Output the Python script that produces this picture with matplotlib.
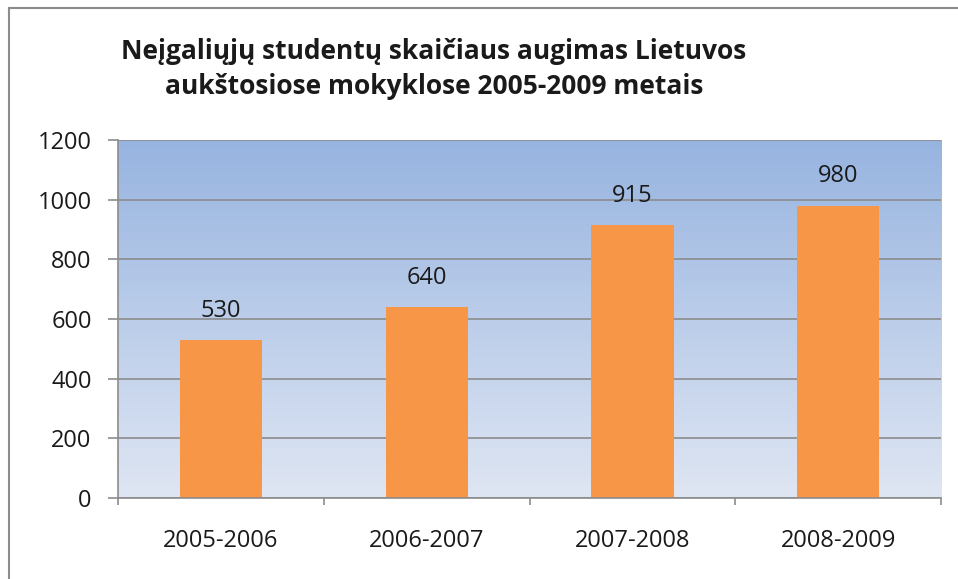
import numpy as np
import matplotlib
matplotlib.use("Agg")
import matplotlib.pyplot as plt
from matplotlib.colors import LinearSegmentedColormap
from matplotlib.lines import Line2D

plt.rcParams['font.family'] = ['Open Sans', 'DejaVu Sans']

# data
periods = ["2005-2006", "2006-2007", "2007-2008", "2008-2009"]
students = [530, 640, 915, 980]
y_ticks = [0, 200, 400, 600, 800, 1000, 1200]
title = "Neįgaliųjų studentų skaičiaus augimas Lietuvos\naukštosiose mokyklose 2005-2009 metais"

fig = plt.figure(figsize=(9.58, 5.79), dpi=100)
fig.patch.set_facecolor("white")
ax = fig.add_axes([0.1232, 0.1399, 0.8591, 0.6183])

# gradient background of plot area
grad = LinearSegmentedColormap.from_list("bg", ["#dfe6f3", "#97b4e0"])
ax.imshow(np.linspace(0, 1, 256).reshape(-1, 1), cmap=grad, origin="lower",
          aspect="auto", extent=[-0.5, len(periods) - 0.5, 0, 1200], zorder=0)

x = np.arange(len(periods))
ax.set_axisbelow(True)
ax.yaxis.grid(True, color="#8c8c8c", lw=1.2, zorder=1)
bars = ax.bar(x, students, width=0.40, color="#f79646", zorder=2)

for xi, v in zip(x, students):
    ax.annotate(str(v), (xi, v), xytext=(0, 21), textcoords="offset points",
                ha="center", va="center", fontsize=17, color="#1a1a1a")

ax.set_xlim(-0.5, len(periods) - 0.5)
ax.set_ylim(0, 1200)
ax.set_yticks(y_ticks)
ax.set_xticks(x)
ax.set_xticklabels(periods)
ax.set_xticks(np.arange(len(periods) + 1) - 0.5, minor=True)

for s in ["top", "right"]:
    ax.spines[s].set_visible(False)
for s in ["left", "bottom"]:
    ax.spines[s].set_color("#8c8c8c")
    ax.spines[s].set_linewidth(1.2)

ax.tick_params(axis="y", length=7, width=1.2, color="#8c8c8c", pad=12,
               labelsize=17, labelcolor="#1a1a1a")
ax.tick_params(axis="x", which="major", length=0, pad=22,
               labelsize=17, labelcolor="#1a1a1a")
ax.tick_params(axis="x", which="minor", length=5, width=1.2, color="#8c8c8c")

fig.text(0.453, 0.881, title, ha="center", va="center", fontsize=19,
         fontweight="bold", color="#1a1a1a", linespacing=1.38)

# chart frame (only top and left edges show)
fig.add_artist(Line2D([9 / 958, 1], [1 - 8 / 579, 1 - 8 / 579],
                      transform=fig.transFigure, color="#8c8c8c", lw=1.5))
fig.add_artist(Line2D([9 / 958, 9 / 958], [0, 1 - 8 / 579],
                      transform=fig.transFigure, color="#8c8c8c", lw=1.5))

fig.savefig("out.png", dpi=100)
